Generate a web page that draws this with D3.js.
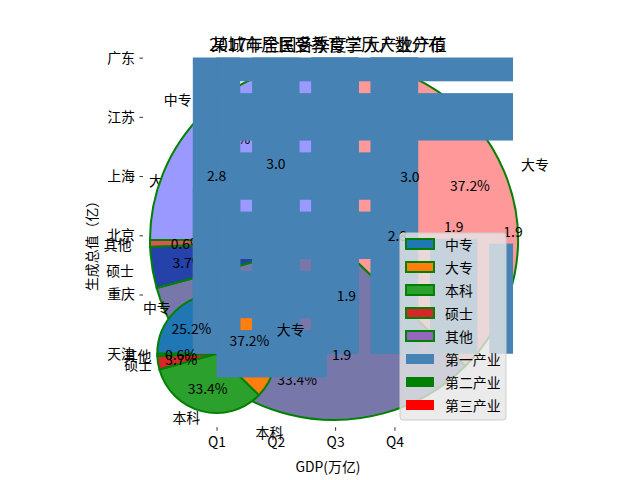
<!DOCTYPE html>
<html><head><meta charset="utf-8">
<script src="https://cdn.jsdelivr.net/npm/d3@7"></script>
<style>
body{margin:0;background:#fff}
svg{display:block}
text{font-family:"Noto Sans CJK SC","Noto Sans","DejaVu Sans",sans-serif;fill:#000}
</style>
</head><body>
<svg id="c" width="640" height="480"></svg>
<script>
// ---------------- data ----------------
const quarters = ['Q1', 'Q2', 'Q3', 'Q4'];
const primaryInd = [8654, 13118, 21050, 22965];      // 第一产业 (亿)
const secondaryInd = [70005, 82519, 86342, 96802];   // 第二产业 (亿)
const tertiaryInd = [102024, 106531, 109084, 118411];// 第三产业 (亿)
const industryNames = ['第一产业', '第二产业', '第三产业'];

const cities = ['北京', '上海', '广东', '江苏', '重庆', '天津'];
const cityGdp = [2.80, 3.01, 8.99, 8.59, 1.94, 1.86];   // 万亿

const eduLabels = ['中专', '大专', '本科', '硕士', '其他'];
const eduShares = [25.2, 37.2, 33.4, 3.7, 0.6];

const titleTexts = ['2017年全国各季度三大产业产值', '某城市居民受教育学历人数分布'];
const xLabelText = 'GDP(万亿)';
const yLabelText = '生成总值（亿）';
const hiddenLabel = '大专';

// ---------------- layout / style ----------------
const svg = d3.select('#c');
const L = 143, R = 513, T = 57.6, B = 427.2;
const x = d3.scaleLinear().domain([-1.24, 5.0]).range([L, R]);
const y = d3.scaleLinear().domain([-1.24, 5.0]).range([B, T]);
const unitX = x(1) - x(0), unitY = y(0) - y(1);

const barColor = '#4682b4';
const indColors = [barColor, '#008000', '#ff0000'];
const smallColors = ['#1f77b4', '#ff7f0e', '#2ca02c', '#d62728', '#9467bd'];
const bigColors = ['#9999ff', '#ff9999', '#7777aa', '#2442aa', '#dd5555'];
const edge = '#008000';
const FS = 13.9;

svg.append('defs').append('clipPath').attr('id', 'ax')
  .append('rect').attr('x', L).attr('y', T).attr('width', R - L).attr('height', B - T);

const pie = d3.pie().sort(null).value(d => d)
  .startAngle(-Math.PI / 2).endAngle(1.5 * Math.PI);
const arcs = pie(eduShares);
const mid = a => (a.startAngle + a.endAngle) / 2;

// hidden label from the underlying layer
svg.append('text').attr('x', 149).attr('y', 180).attr('dominant-baseline', 'central')
  .attr('font-size', FS).text(hiddenLabel);

// ---------------- big pie (under layer) ----------------
const big = {cx: 334, cy: 240, rx: 184, ry: 180};
const gBig = svg.append('g')
  .attr('transform', `translate(${big.cx},${big.cy}) scale(${big.rx / 182},${big.ry / 182})`);
gBig.selectAll('path').data(arcs).join('path')
  .attr('d', d3.arc().innerRadius(0).outerRadius(182))
  .attr('fill', (d, i) => bigColors[i])
  .attr('stroke', edge).attr('stroke-width', 2).attr('vector-effect', 'non-scaling-stroke');

function pieTexts(g, cx, cy, rx, ry, labDist, pctDist) {
  arcs.forEach((a, i) => {
    const m = mid(a), s = Math.sin(m), c = Math.cos(m);
    g.append('text')
      .attr('x', cx + labDist * rx * s).attr('y', cy - labDist * ry * c)
      .attr('text-anchor', s >= 0 ? 'start' : 'end')
      .attr('dominant-baseline', 'central').attr('font-size', FS)
      .text(eduLabels[i]);
    g.append('text')
      .attr('x', cx + pctDist * rx * s).attr('y', cy - pctDist * ry * c)
      .attr('text-anchor', 'middle')
      .attr('dominant-baseline', 'central').attr('font-size', FS)
      .text(eduShares[i].toFixed(1) + '%');
  });
}
pieTexts(svg.append('g'), big.cx, big.cy, big.rx, big.ry, 1.1, 0.8);

// ---------------- main axes ----------------
const gMain = svg.append('g');
const small = {cx: x(0), cy: y(0), r: (unitX + unitY) / 2};
gMain.append('g').attr('transform', `translate(${small.cx},${small.cy})`)
  .selectAll('path').data(arcs).join('path')
  .attr('d', d3.arc().innerRadius(0).outerRadius(small.r))
  .attr('fill', (d, i) => smallColors[i])
  .attr('stroke', edge).attr('stroke-width', 2);

const gBars = gMain.append('g').attr('clip-path', 'url(#ax)');
// stacked quarterly bars
const stackRows = quarters.map((q, i) => ({i, a: primaryInd[i], b: secondaryInd[i], c: tertiaryInd[i]}));
const stacked = d3.stack().keys(['a', 'b', 'c'])(stackRows);
stacked.forEach((layer, k) => {
  gBars.selectAll(null).data(layer).join('rect')
    .attr('x', d => x(d.data.i - 0.4)).attr('width', x(0.8) - x(0))
    .attr('y', d => Math.max(y(d[1]), -1e5)).attr('height', d => y(d[0]) - Math.max(y(d[1]), -1e5))
    .attr('fill', indColors[k]);
});
// vertical city bars
gBars.selectAll(null).data(cityGdp).join('rect')
  .attr('x', (d, i) => x(i - 0.4)).attr('width', x(0.8) - x(0))
  .attr('y', d => y(d)).attr('height', d => y(0) - y(d))
  .attr('fill', barColor);
// horizontal city bars (sorted)
const sorted = cities.map((c, i) => ({name: c, v: cityGdp[i]})).sort((a, b) => a.v - b.v);
gBars.selectAll(null).data(sorted).join('rect')
  .attr('x', x(0)).attr('width', d => x(d.v) - x(0))
  .attr('y', (d, i) => y(i + 0.4)).attr('height', y(0) - y(0.8))
  .attr('fill', barColor);

// small pie texts on top
pieTexts(gMain.append('g'), small.cx, small.cy, small.r, small.r, 1.1, 0.6);

// value labels
const gLab = gMain.append('g').attr('font-size', FS).attr('text-anchor', 'middle');
cityGdp.forEach((v, i) => {
  const py = y(v + 0.21);
  if (py > T - 10) gLab.append('text').attr('x', x(i)).attr('y', py)
    .attr('dominant-baseline', 'central').text(v.toFixed(1));
});
sorted.forEach((d, i) => {
  const px = x(d.v + 0.25);
  if (px < R + 20) gLab.append('text').attr('x', px).attr('y', y(i))
    .attr('dominant-baseline', 'central').text(d.v.toFixed(1));
});

// ---------------- axes ----------------
const xAxis = d3.axisBottom(x).tickValues(d3.range(quarters.length))
  .tickFormat(i => quarters[i]).tickSize(3.5).tickPadding(6);
const gx = svg.append('g').attr('transform', `translate(0,${B})`).call(xAxis);
const yAxis = d3.axisLeft(y).tickValues(d3.range(sorted.length))
  .tickFormat(i => sorted[i].name).tickSize(3.5).tickPadding(4.5);
const gy = svg.append('g').attr('transform', `translate(${L},0)`).call(yAxis);
[gx, gy].forEach(g => {
  g.select('.domain').remove();
  g.selectAll('text').attr('font-size', FS).attr('font-family', '"Noto Sans CJK SC",sans-serif').attr('fill', '#000');
  g.selectAll('line').attr('stroke', '#000').attr('stroke-width', 0.8);
});
svg.append('text').attr('x', (L + R) / 2).attr('y', 466).attr('text-anchor', 'middle')
  .attr('dominant-baseline', 'central').attr('font-size', FS).text(xLabelText);
svg.append('text').attr('transform', `translate(91,${(T + B) / 2}) rotate(-90)`)
  .attr('text-anchor', 'middle').attr('dominant-baseline', 'central')
  .attr('font-size', FS).text(yLabelText);

// ---------------- legend ----------------
const legItems = eduLabels.map((l, i) => ({label: l, color: smallColors[i], stroke: edge}))
  .concat(industryNames.map((l, i) => ({label: l, color: indColors[i], stroke: null})));
const lg = svg.append('g');
lg.append('rect').attr('x', 400).attr('y', 233).attr('width', 106).attr('height', 187)
  .attr('rx', 3).attr('fill', '#e6e6e6').attr('fill-opacity', 0.8)
  .attr('stroke', '#cccccc').attr('stroke-width', 1);
legItems.forEach((d, i) => {
  const cy = 244 + i * 23;
  lg.append('rect').attr('x', 406).attr('y', cy - 5).attr('width', 28).attr('height', 10)
    .attr('fill', d.color).attr('stroke', d.stroke || 'none').attr('stroke-width', 2);
  lg.append('text').attr('x', 445).attr('y', cy).attr('dominant-baseline', 'central')
    .attr('font-size', FS).text(d.label);
});

// ---------------- titles ----------------
titleTexts.forEach(t => {
  svg.append('text').attr('x', (L + R) / 2).attr('y', 44).attr('text-anchor', 'middle')
    .attr('dominant-baseline', 'central').attr('font-size', 16.7).text(t);
});
</script>
</body></html>
